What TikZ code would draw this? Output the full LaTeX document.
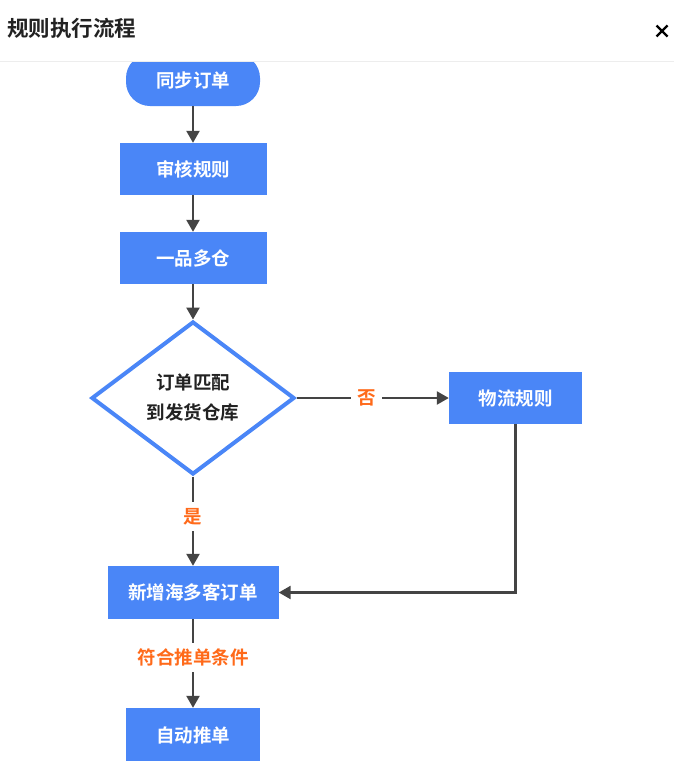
\documentclass[tikz,border=0pt]{standalone}
\usepackage{fontspec}
\newfontfamily\cjk{Noto Sans CJK SC}[BoldFont={Noto Sans CJK SC Bold}]
\usetikzlibrary{arrows.meta,shapes.geometric}
\definecolor{fblue}{HTML}{4A86F7}
\definecolor{forange}{HTML}{FF6A1A}
\definecolor{fdark}{HTML}{444444}
\definecolor{ftitle}{HTML}{222222}
\tikzset{
  box/.style={fill=fblue, text=white, font=\cjk\bfseries\fontsize{18.5}{22}\selectfont, inner sep=0pt, anchor=center},
  conn/.style={draw=fdark, line width=2.4pt, -{Triangle[length=12pt,width=13pt]}},
  lbl/.style={fill=white, text=forange, font=\cjk\bfseries\fontsize{18.5}{22}\selectfont, inner sep=6pt}
}
\begin{document}
\begin{tikzpicture}[x=1pt,y=-1pt]
\useasboundingbox (0,0) rectangle (674,761);
\fill[white] (0,0) rectangle (674,761);
% start node
\node[box, minimum width=134pt, minimum height=52pt, rounded corners=24pt] (start) at (193,80) {同步订单};
% header overlay
\fill[white] (0,0) rectangle (674,61);
\draw[draw=black!7, line width=1pt] (0,61.5) -- (674,61.5);
\node[font=\cjk\bfseries\fontsize{21.5}{24}\selectfont, text=ftitle, anchor=west, inner sep=0pt] (title) at (7,28) {规则执行流程};
\coordinate (c1) at (656.5,25.5);
\coordinate (c2) at (667.5,36.5);
\coordinate (c3) at (667.5,25.5);
\coordinate (c4) at (656.5,36.5);
\draw[black, line width=2.4pt] (c1) -- (c2) (c3) -- (c4);
% boxes
\node[box, minimum width=147pt, minimum height=52pt] (audit) at (193,169) {审核规则};
\node[box, minimum width=147pt, minimum height=52pt] (multi) at (193,258) {一品多仓};
\node[draw=fblue, line width=4pt, fill=white, diamond, minimum width=203pt, minimum height=153pt, inner sep=0pt, aspect=1.33,
      text=ftitle, font=\cjk\bfseries\fontsize{18.5}{30}\selectfont, align=center] (match) at (193,398) {订单匹配\\到发货仓库};
\node[box, minimum width=133pt, minimum height=52pt] (logi) at (515.5,398) {物流规则};
\node[box, minimum width=171pt, minimum height=53pt] (new) at (193,592.5) {新增海多客订单};
\node[box, minimum width=134pt, minimum height=54pt] (auto) at (193,735) {自动推单};
% connectors
\draw[conn] (start.south) -- (audit.north);
\draw[conn] (audit.south) -- (multi.north);
\draw[conn] (multi.south) -- (match.north);
\draw[conn] (match.east) -- node[lbl, pos=0.46] (no) {否} (logi.west);
\draw[conn] (match.south) -- node[lbl, pos=0.45] (yes) {是} (new.north);
\draw[conn] (logi.south) |- (new.east);
\draw[conn] (new.south) -- node[lbl, pos=0.43] (cond) {符合推单条件} (auto.north);
\end{tikzpicture}
\end{document}
